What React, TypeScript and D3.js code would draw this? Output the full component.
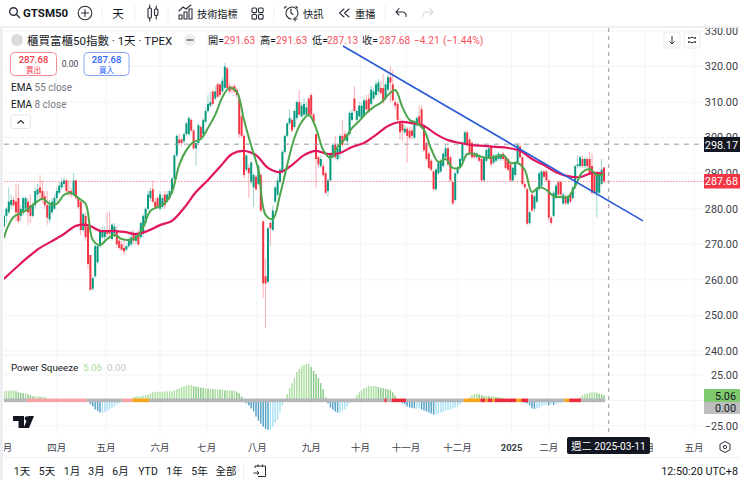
import * as d3 from 'd3';

// daily OHLC, 2024-03 .. 2025-03-11 (10 bars a row)
const opens = [
  275, 278, 279, 281, 282.5, 282, 283, 278, 279, 280,
  282, 281, 278, 281, 284, 286, 285, 283.5, 281, 277,
  279, 280, 283, 284.5, 286, 287, 288, 285, 285, 284,
  288, 283, 282, 274, 278, 275, 267, 257.5, 261, 265,
  269.5, 272, 272, 274, 274, 271.5, 273, 273.5, 271, 270,
  269, 268.5, 269.5, 270, 273, 271, 272.5, 272, 273, 276,
  280, 283, 285.5, 282, 283, 280, 280.5, 284, 282, 283,
  284.5, 288.5, 295, 299.5, 299.5, 299, 301, 301, 305, 302,
  297, 298.5, 303, 301, 304.5, 307.5, 309, 313, 311, 315,
  315, 313, 314, 319.5, 314.5, 314, 314.5, 313.5, 311, 306,
  300.5, 291, 291.5, 287.5, 286, 289, 287, 289.5, 276.5, 261,
  259.5, 276, 274, 282, 284, 287.5, 290.5, 296, 300.5, 304,
  305, 303, 305.5, 310, 306, 306.5, 306.5, 311, 312, 306.5,
  301, 294.5, 292, 292, 290, 285, 288, 294.5, 298, 294,
  295.5, 300.5, 301, 299, 301, 305, 311, 305, 306, 305.5,
  306.5, 310.5, 311, 309.5, 311, 312, 313, 314, 314, 311,
  313.5, 317, 315, 310, 309.5, 304.5, 304, 301.5, 302.5, 302,
  302, 300, 303.5, 306, 308, 303.5, 298.5, 295.5, 293.5, 290.5,
  285.5, 290, 290.5, 292, 294.5, 297, 294.5, 287.5, 282.5, 290,
  291.5, 293.5, 298.5, 301.5, 299.5, 298.5, 295.5, 294.5, 294.5, 294,
  288, 293.5, 294.5, 297.5, 293, 293.5, 294, 294, 295.5, 294.5,
  294, 292.5, 288, 289.5, 293, 297.5, 294.5, 287, 285.5, 276,
  284, 280, 282, 285.5, 286.5, 290.5, 290.5, 288, 277.5, 278,
  283, 287.5, 287.5, 281.5, 283.5, 281.5, 284, 283, 286, 292,
  292, 294, 292, 294, 294, 292, 290, 284.5, 284.5, 287,
  291.63,
];
const closes = [
  278, 280, 282, 282.5, 281, 279, 276.5, 280, 283, 283,
  279, 278, 281, 285, 285.5, 284.5, 283, 281, 277.5, 281,
  282, 283, 285, 286.5, 287.5, 288, 285, 284.5, 284, 288,
  283, 280.5, 274, 278.5, 272, 264.5, 257.2, 260.5, 269.5, 269.5,
  274, 274, 274, 273, 273, 275.5, 275, 270, 269, 268.5,
  268, 269.5, 271, 272, 271, 272.5, 270, 276, 278, 280,
  284, 285, 282, 280.5, 280.5, 284, 283, 281, 284, 285,
  288.5, 295, 300.5, 298.5, 298.5, 301, 304, 305.5, 302, 297,
  298.5, 303.5, 300, 305, 307.5, 309.5, 310, 309.5, 313, 311.5,
  312, 316, 320, 314, 313, 313.5, 313, 312, 301, 300.5,
  289.5, 295, 290, 293, 289.5, 285.5, 292, 279.5, 259, 259,
  274.5, 274.5, 279.5, 286, 288, 291, 296, 300.5, 304, 305.5,
  302, 307.5, 310, 306.5, 309, 309.5, 308.5, 306.5, 306.5, 304.5,
  294, 292.5, 294, 289.5, 284.5, 288, 295.5, 298, 294.5, 297,
  300.5, 298, 300, 301, 307, 307, 307.5, 307.5, 309, 309,
  310.5, 308, 307.5, 313.5, 313, 315, 315.5, 312.5, 310, 315,
  317, 315.5, 310.5, 309, 305, 301.5, 302, 302.5, 300.5, 300,
  300.5, 304, 305.5, 304, 303.5, 296.5, 294, 291.5, 291, 285.5,
  291, 293, 293.5, 295.5, 297, 292.5, 288, 281.5, 290, 291.5,
  294, 298.5, 301.5, 298, 295.5, 294.5, 294.5, 295.5, 293.5, 288,
  294.5, 296.5, 297, 292.5, 295, 295, 295.5, 295, 294, 291.5,
  291, 288, 291.5, 293, 298, 294.5, 287, 286, 275.8, 279,
  279.5, 283.5, 285.5, 290, 290.5, 289, 288, 277.5, 276, 284.5,
  286.5, 284, 284, 284, 281.5, 283.5, 282, 286, 292, 292.5,
  294.5, 292, 294, 292, 290, 284.5, 284.5, 290, 290, 291,
  287.68,
];
const highs = [
  278.5, 280.5, 286, 284, 283.5, 287, 287, 281, 283.5, 283.5,
  283, 284, 282, 286, 287, 289.5, 288, 285, 285, 282.5,
  283, 284, 286, 287.5, 288.5, 289, 288.5, 288, 286, 290,
  288, 283.5, 282, 279, 279, 275, 267, 261, 270, 270,
  274.5, 275, 275, 279, 279, 276, 276, 275, 272.5, 271,
  271, 270, 272, 274, 274, 273.5, 274, 276.5, 278.5, 280.5,
  285, 286, 288, 283, 283.5, 285, 284, 285, 285, 285.5,
  289, 295.5, 301, 301, 300, 301.5, 304.5, 306, 305.5, 302.5,
  299, 304, 303.5, 305.5, 308.5, 312, 313, 313.5, 314.5, 315.5,
  315.5, 317, 321, 320, 315.5, 315, 315, 314, 312, 306.5,
  301, 295.5, 292.5, 293.5, 290, 289.5, 292.5, 290, 276.5, 266,
  275, 276.5, 281, 286.5, 289, 291.5, 296.5, 301, 304.5, 308,
  305.5, 308, 310.5, 313.5, 310, 311, 310, 311.5, 312.5, 307,
  301, 295, 295, 293, 290.5, 288.5, 296, 298.5, 300.5, 298,
  301, 305, 302, 301.5, 307.5, 308, 314.5, 308, 310, 310,
  311.5, 312, 312.5, 314.5, 314, 316, 316.5, 316, 318, 316,
  318, 320, 319, 311, 310, 305.5, 305, 303.5, 303, 303,
  303, 305, 306, 309, 309, 304, 299, 296, 294, 291,
  291.5, 293.5, 294, 296, 298, 297.5, 295, 288, 290.5, 292,
  294.5, 299, 302, 302, 300, 299, 296, 296, 295, 294.5,
  295, 297, 297.5, 298, 295.5, 295.5, 296, 295.5, 296, 295,
  294.5, 293, 292, 293.5, 298.5, 298.5, 295, 287.5, 286, 279.5,
  284.5, 284, 286, 290.5, 291, 291, 291, 288.5, 278, 285,
  287, 288, 288, 284.5, 284, 284, 284.5, 286.5, 292.5, 295,
  295, 295, 294.5, 294.5, 296, 295.5, 290.5, 290.5, 290.5, 294,
  291.63,
];
const lows = [
  274.5, 276, 278.5, 280, 280.5, 276.5, 276, 276.5, 278, 279.5,
  275.5, 276, 277.5, 280, 283, 283, 281.5, 280, 275.5, 276,
  278.5, 279.5, 282, 284, 285.5, 286, 284.5, 283.5, 283, 283.5,
  282.5, 280, 272.5, 273.5, 271, 263, 257, 257, 260.5, 264.5,
  269, 271.5, 271, 272, 272, 271, 272, 269, 268.5, 268,
  267, 268, 269, 269.5, 270, 270, 269.5, 271.5, 272, 275,
  279.5, 282, 281.5, 280, 280, 279.5, 280, 280, 281.5, 282.5,
  284, 288, 294.5, 298, 297.5, 298.5, 300.5, 300.5, 301.5, 296.5,
  292, 298, 299.5, 300.5, 304, 307, 308.5, 309, 310.5, 311,
  311.5, 312.5, 313.5, 313.5, 312.5, 312.5, 312.5, 311, 300, 300,
  288.5, 290.5, 283, 287, 280.5, 285, 286.5, 279, 255, 246.5,
  259, 269.5, 274, 281.5, 283.5, 287, 290, 295.5, 300, 303.5,
  301.5, 302.5, 305, 306, 305.5, 306, 306, 306, 306, 304,
  286, 291.5, 291.5, 289, 284, 283.5, 287.5, 294, 294, 293.5,
  294, 297.5, 299, 298, 300.5, 304.5, 307, 304.5, 305.5, 305,
  306, 307.5, 307, 309, 310.5, 311.5, 312, 312, 309.5, 310.5,
  313, 310, 310, 308, 304.5, 299.5, 299, 301, 293, 299.5,
  299.5, 299.5, 303, 303.5, 303, 296, 293.5, 291, 290.5, 285,
  285, 289.5, 290, 291.5, 294, 292, 287.5, 281, 282, 289.5,
  291, 293, 298, 297.5, 295, 294, 294, 294, 293, 287.5,
  287.5, 293, 294, 292, 292.5, 293, 293.5, 293.5, 293.5, 291,
  290.5, 287.5, 287.5, 289, 292.5, 294, 286.5, 285.5, 275.5, 275.5,
  279, 279, 281.5, 285, 286, 288.5, 287.5, 276.5, 275.5, 277.5,
  282.5, 283.5, 283.5, 281, 281, 281, 281.5, 282.5, 285.5, 291.5,
  291.5, 291.5, 291.5, 291.5, 289.5, 284, 284, 277.5, 284, 286.5,
  287.13,
];

// EMA 55, one reading every 5 bars
const ema55 = [
  260.3, 263.4, 266.4, 269, 270.9, 272.9, 275.2, 275.4, 273.8, 273.8,
  273.5, 272.9, 273.8, 275.4, 276.6, 280.2, 284.7, 288.1, 291.8, 295.4,
  296.3, 295.1, 291.5, 290.3, 292.3, 295.1, 296.3, 295.4, 295.7, 297.4,
  298.5, 300.8, 303.3, 304.4, 304.1, 303.3, 301, 299.3, 298.5, 297.9,
  297.7, 297.4, 297.1, 296.3, 294, 292.3, 290.3, 289.2, 288.9, 290.1,
  289.8,
];
// EMA 8, bar 0 and then one reading every 3 bars from bar 1
const ema8 = [
  271.8,
  274, 277.7, 278.8, 279.9, 281.6, 282.8, 281.4, 281.4, 283.9, 284.4,
  283, 281.4, 271.2, 269.8, 271.5, 272.6, 271.5, 271.2, 271.8, 274.9,
  279.4, 280.5, 281.6, 284.7, 292.3, 296.5, 298.8, 299.6, 302.7, 306.4,
  311.4, 314, 312.9, 305, 297.7, 290.9, 278.3, 277.1, 283.9, 292.3,
  299.9, 304.4, 306.4, 302.7, 296.5, 294.3, 297.4, 299.6, 302.7, 304.7,
  306.9, 308.6, 309.8, 312, 313.4, 308.6, 305, 304.1, 302.2, 296.8,
  293.2, 294, 291.5, 291.7, 295.4, 295.4, 294.6, 294.3, 294.6, 295.1,
  292.9, 292.9, 290.9, 284.7, 286.1, 285.3, 283.6, 283.3, 283.3, 286.4,
  290.3, 291.2, 289.5, 289.8,
];
const ema55Bars = d3.range(0, 251, 5);
const ema8Bars = [0, ...d3.range(1, 251, 3)];

// drawn trend line: [bar, price]
const trendBars = [141.25, 266.25];
const trendPrices = [325.8, 276.6];

// Power Squeeze histogram
const squeeze = [
  9, 9.5, 9.5, 10, 10, 9, 8, 7.5, 7, 7,
  6, 5, 4, 4, 4, 3.5, 3.5, 3, 1.5, 0.5,
  0.3, 0.2, 0.2, 0.1, 0.1, 0.1, 0.1, 0.1, 0, 0,
  0, 0, 0, 0, 0, -1.5, -4, -6, -9, -10.5,
  -12, -12, -11.5, -10.5, -9, -7.5, -5.5, -4, -2.5, -1,
  -0.5, 0, 0.2, 0.3, 3, 4, 4, 4, 4.5, 5,
  5.5, 7, 8, 8.5, 8.5, 8.5, 8.5, 8.5, 9, 9,
  9, 10, 11, 12, 13, 14, 14.5, 15, 15, 14,
  13.5, 13, 12.5, 12, 12, 11.5, 11.5, 11, 11, 11,
  10.5, 10.5, 10, 10, 10, 9.5, 9.5, 8.5, 7, 4,
  1.5, -3, -5, -8, -11, -16, -20, -23, -26, -28,
  -29, -29, -26, -22, -19, -12, -5, -1, 6, 12,
  17, 22, 28, 31, 33.5, 35, 36, 36, 33, 29,
  26, 22, 17, 11, 3, -3, -7, -9, -11, -12,
  -12, -10, -9, -6, -3, -1, 1, 5, 8, 10,
  12, 13, 14, 14, 14, 14, 13, 12.5, 12, 11.5,
  11, 10, 8, 5, 1.5, 0.3, -3, -4, -6, -7,
  -7.5, -8, -8, -8, -9, -10, -11, -12, -13, -14,
  -14, -13, -12, -11, -10, -9.5, -9, -8, -7, -6,
  -4, -2, -0.5, 1, 3, 5, 6, 6.5, 6, 5,
  4.5, 4.5, 4, 4, 4, 3.5, 3.5, 2.5, 2, 1.5,
  1, 1, 0.5, -0.5, -1, -0.5, -1, -2.5, -3, -5,
  -8, -8.5, -8, -7.5, -6, -5, -4.5, -5, -4, -4.5,
  -3.5, -3, -2.5, -2, -1.5, -0.5, 0.3, 1, 1.5, 2,
  3, 5, 6, 7, 7.5, 8, 8, 7.5, 6.5, 6,
  5.06,
];
// squeeze state strip along the zero line: first bar, last bar, state
const stripFrom = [0, 10, 35, 50, 54, 61, 159, 160, 162, 168, 192, 199, 201, 202, 204, 205, 214, 216, 219, 234, 236, 241];
const stripTo = [9, 34, 49, 53, 60, 158, 159, 161, 167, 191, 198, 200, 201, 203, 204, 213, 215, 218, 233, 235, 240, 250];
const stripState = ['n', 'p', 'n', 'p', 'o', 'n', 'r', 'n', 'r', 'n', 'o', 'r', 'o', 'r', 'o', 'r', 'o', 'r', 'n', 'o', 'r', 'n'];
const stripColors: Record<string, string> = { n: '#b4b5b8', p: '#f8a3a6', o: '#f9a51a', r: '#ee2a3f' };

const priceTicks = [330, 320, 310, 300, 290, 280, 270, 260, 250, 240];
const squeezeTicks = [25, -25];
const monthLabels = ['三月', '四月', '五月', '六月', '七月', '八月', '九月', '十月', '十一月', '十二月', '2025', '二月', '', '四月', '五月'];
const monthBars = [-0.5, 22, 42.5, 65, 84.5, 105.5, 128, 148.5, 167.5, 189, 211.5, 227, 245.5, 267, 287.5];
const rangeLabels = ['1天', '5天', '1月', '3月', '6月', 'YTD', '1年', '5年', '全部'];
const rangeCenters = [22, 47, 72, 96.5, 120.5, 148, 174.5, 199.5, 226];

const W = 740;
const H = 480;
const FONT = 'Roboto, "Noto Sans CJK TC", sans-serif';
const UP = '#089981';
const DOWN = '#f23645';
const GRID = '#f3f4f6';
const AXIS_TEXT = '#3d4048';
const PANE_LEFT = 4;
const PANE_RIGHT = 704;

const x = d3.scaleLinear().domain([0, 250]).range([4, 604]);
const y = d3.scaleLinear().domain([240, 330]).range([351, 31]);
const yOsc = d3.scaleLinear().domain([-25, 25]).range([425.7, 375]);

const ema55Path = d3.line<number>().x((_, i) => x(ema55Bars[i])).y(d => y(d)).curve(d3.curveCatmullRom)(ema55)!;
const ema8Path = d3.line<number>().x((_, i) => x(ema8Bars[i])).y(d => y(d)).curve(d3.curveCatmullRom)(ema8)!;

function squeezeColor(i: number) {
  const v = squeeze[i];
  const rising = i === 0 || v >= squeeze[i - 1];
  if (v >= 0) return rising ? '#a9dd9d' : '#86c983';
  return rising ? '#a8e0f6' : '#4f9fc6';
}

const ICON = { fill: 'none', stroke: '#2a2e39', strokeWidth: 1.1, strokeLinecap: 'round' as const };

function Toolbar() {
  const seps = [102, 135, 168, 274, 385];
  return (
    <g fontFamily={FONT} fill="#131722">
      <rect x={0} y={0} width={W} height={26} fill="#fff" />
      <rect x={0} y={26} width={W} height={2} fill="#eff0f3" />
      {seps.map(s => <line key={s} x1={s} x2={s} y1={5} y2={21} stroke="#eef0f3" />)}
      <g {...ICON} strokeWidth={1.4}>
        <circle cx={13.5} cy={11.5} r={3.8} />
        <path d="M16.5 14.5 L19.5 17.5" />
      </g>
      <text x={23} y={17} fontSize={11.5} fontWeight={700}>GTSM50</text>
      <g {...ICON}>
        <circle cx={85} cy={13} r={6.8} />
        <path d="M85 9.5 V16.5 M81.5 13 H88.5" />
      </g>
      <text x={118} y={17.5} fontSize={11.5} textAnchor="middle">天</text>
      <g {...ICON}>
        <rect x={148} y={8} width={3.4} height={10} rx={1} />
        <path d="M149.7 5 V8 M149.7 18 V21" />
        <rect x={154.5} y={9} width={3.4} height={6.5} rx={1} />
        <path d="M156.2 6 V9 M156.2 15.5 V19" />
      </g>
      <g {...ICON}>
        <path d="M179 19 V15 H182 V19 Z M184 19 V12 H187 V19 Z M189 19 V9 H192 V19 Z" />
        <path d="M179 11 L183 7 L186 9 L191 5" />
      </g>
      <text x={197} y={17.5} fontSize={10.2}>技術指標</text>
      <g {...ICON}>
        <rect x={252} y={8} width={4.6} height={4.6} rx={1} />
        <rect x={258.5} y={8} width={4.6} height={4.6} rx={1} />
        <rect x={252} y={14.5} width={4.6} height={4.6} rx={1} />
        <rect x={258.5} y={14.5} width={4.6} height={4.6} rx={1} />
      </g>
      <g {...ICON}>
        <path d="M296.5 17 A6 6 0 1 0 291 19" />
        <path d="M291 9 V13 L293 14.5 M286 6.5 L284.5 8 M296 6.5 L297.5 8 M295 17 V21 M293 19 H297" />
      </g>
      <text x={303} y={17.5} fontSize={10.2}>快訊</text>
      <g {...ICON}>
        <path d="M344 9 L339.5 13 L344 17 M349 9 L344.5 13 L349 17" />
      </g>
      <text x={355} y={17.5} fontSize={10.2}>重播</text>
      <g {...ICON}>
        <path d="M396 12 H403 A4 4 0 0 1 406 16.5 M399 8.5 L396 12 L399 15" />
      </g>
      <g {...ICON} stroke="#d4d6da">
        <path d="M433 12 H426 A4 4 0 0 0 423 16.5 M430 8.5 L433 12 L430 15" />
      </g>
    </g>
  );
}

function Legend() {
  return (
    <g fontFamily={FONT}>
      <circle cx={17} cy={40} r={6} fill="#dcdcdc" />
      <text x={27} y={45} fontSize={11.5} fill="#131722">櫃買富櫃50指數 · 1天 · TPEX</text>
      <circle cx={190} cy={40} r={6} fill="#eceef1" />
      <rect x={186.5} y={39.2} width={7} height={1.6} fill="#777" />
      <g fontSize={10.2}>
        <text x={208} y={44} fill="#131722">開=</text>
        <text x={224} y={44} fill="#f7525f">291.63</text>
        <text x={260} y={44} fill="#131722">高=</text>
        <text x={276} y={44} fill="#f7525f">291.63</text>
        <text x={312} y={44} fill="#131722">低=</text>
        <text x={327} y={44} fill="#f7525f">287.13</text>
        <text x={362} y={44} fill="#131722">收=</text>
        <text x={379} y={44} fill="#f7525f">287.68</text>
        <text x={414} y={44} fill="#f7525f">−4.21</text>
        <text x={443} y={44} fill="#f7525f">(−1.44%)</text>
      </g>
      <rect x={10.5} y={52.5} width={46} height={23} rx={4} fill="#fff" stroke="#f28b95" />
      <text x={33.5} y={63} fontSize={9.5} fontWeight={500} fill="#f23645" textAnchor="middle">287.68</text>
      <text x={33.5} y={73} fontSize={7.5} fill="#f23645" textAnchor="middle">賣出</text>
      <text x={70} y={67} fontSize={8.5} fill="#3d4048" textAnchor="middle">0.00</text>
      <rect x={84} y={52.5} width={45} height={23} rx={4} fill="#fff" stroke="#86a8f2" />
      <text x={106.5} y={63} fontSize={9.5} fontWeight={500} fill="#2962ff" textAnchor="middle">287.68</text>
      <text x={106.5} y={73} fontSize={7.5} fill="#2962ff" textAnchor="middle">買入</text>
      <text x={11} y={91} fontSize={10} fill="#131722">EMA <tspan fill="#787b86">55 close</tspan></text>
      <text x={11} y={108} fontSize={10} fill="#131722">EMA <tspan fill="#787b86">8 close</tspan></text>
      <rect x={11} y={115} width={19.5} height={13.5} rx={2} fill="#fff" stroke="#e3e5e9" />
      <path d="M17.5 123.5 L20.8 120.5 L24 123.5" fill="none" stroke="#2a2e39" strokeWidth={1.1} />
      <g fill="#fff" stroke="#e8e9ec">
        <rect x={664} y={32} width={16} height={16} rx={3} />
        <rect x={684} y={32} width={16} height={16} rx={3} />
      </g>
      <path d="M672 36 V44 M669.5 41.5 L672 44 L674.5 41.5" fill="none" stroke="#2a2e39" strokeWidth={1} />
      <path d="M688.5 38.5 Q692 36 695.5 38.5 M688.5 41.5 Q692 44 695.5 41.5 M688.5 37 V38.5 M695.5 37 V38.5 M688.5 41.5 V43 M695.5 41.5 V43" fill="none" stroke="#2a2e39" strokeWidth={1} />
    </g>
  );
}

function Candles() {
  return (
    <g>
      {closes.map((c, i) => {
        const color = c >= opens[i] ? UP : DOWN;
        const top = y(Math.max(opens[i], c));
        const bottom = y(Math.min(opens[i], c));
        return (
          <g key={i}>
            <line x1={x(i)} x2={x(i)} y1={y(highs[i])} y2={y(lows[i])} stroke={color} strokeOpacity={0.4} strokeWidth={1} />
            <rect x={x(i) - 1} y={top} width={2} height={Math.max(bottom - top, 1)} fill={color} />
          </g>
        );
      })}
    </g>
  );
}

function SqueezePane() {
  return (
    <g>
      {squeeze.map((v, i) => (
        <rect
          key={i}
          x={x(i) - 0.7}
          y={Math.min(yOsc(v), yOsc(0))}
          width={1.4}
          height={Math.abs(yOsc(v) - yOsc(0))}
          fill={squeezeColor(i)}
        />
      ))}
      {stripFrom.map((from, k) => (
        <rect
          key={k}
          x={x(from) - 1.2}
          y={yOsc(0) - 1.8}
          width={x(stripTo[k]) - x(from) + 2.4}
          height={3.6}
          fill={stripColors[stripState[k]]}
        />
      ))}
    </g>
  );
}

function PriceAxis() {
  return (
    <g fontFamily={FONT} fontSize={10.8} fill={AXIS_TEXT} textAnchor="end">
      {priceTicks.map(t => <text key={t} x={738} y={y(t) + 3.8}>{t.toFixed(2)}</text>)}
      {squeezeTicks.map(t => (
        <text key={t} x={738} y={yOsc(t) + 3.8}>{t < 0 ? `−${Math.abs(t).toFixed(2)}` : t.toFixed(2)}</text>
      ))}
      <rect x={704} y={137} width={36} height={15} fill="#131722" />
      <text x={738} y={148.5} fill="#fff">298.17</text>
      <rect x={704} y={174} width={36} height={14.5} fill="#f23645" />
      <text x={738} y={185} fill="#fff">287.68</text>
      <rect x={704} y={389} width={36} height={13} fill="#7fc96f" />
      <text x={736} y={399.5} fill="#131722">5.06</text>
      <rect x={704} y={402} width={36} height={12} fill="#bdbdbd" />
      <text x={736} y={412} fill="#131722">0.00</text>
    </g>
  );
}

function TimeAxis() {
  return (
    <g fontFamily={FONT} fontSize={9.5} fill={AXIS_TEXT} textAnchor="middle">
      <g clipPath="url(#pane)">
        {monthLabels.map((m, i) => m && (
          <text key={i} x={x(monthBars[i])} y={451} fontWeight={m === '2025' ? 700 : 400}>{m}</text>
        ))}
      </g>
      <rect x={567} y={437} width={83} height={17} rx={2} fill="#131722" />
      <text x={608.5} y={450} fill="#fff" fontSize={10.2}>週二 2025-03-11</text>
      <g fill="none" stroke="#2a2e39" strokeWidth={1}>
        <path d="M725 441.5 L730 444.2 V449.8 L725 452.5 L720 449.8 V444.2 Z" />
        <circle cx={725} cy={447} r={1.6} />
      </g>
    </g>
  );
}

function BottomBar() {
  return (
    <g fontFamily={FONT} fontSize={10.5} fill="#131722">
      {rangeLabels.map((r, i) => <text key={r} x={rangeCenters[i]} y={475} textAnchor="middle">{r}</text>)}
      <line x1={243.5} x2={243.5} y1={463} y2={479} stroke="#eceef1" />
      <path d="M255 468 V466 H265.5 V476.5 H258 M258 464.5 V467 M262.5 464.5 V467 M253.5 473 H259 M257 471 L259 473 L257 475" fill="none" stroke="#2a2e39" strokeWidth={1} />
      <text x={738} y={475} textAnchor="end" fontSize={10.8}>12:50:20 UTC+8</text>
    </g>
  );
}

export default function App() {
  return (
    <svg width={W} height={H} viewBox={`0 0 ${W} ${H}`} style={{ position: 'absolute', left: 0, top: 0, background: '#fff' }}>
      <defs>
        <clipPath id="pane"><rect x={PANE_LEFT} y={28} width={PANE_RIGHT - PANE_LEFT} height={430} /></clipPath>
      </defs>
      <rect x={0} y={28} width={3} height={452} fill="#eceef1" />

      {/* gridlines */}
      {priceTicks.map(t => <line key={t} x1={PANE_LEFT} x2={PANE_RIGHT} y1={y(t)} y2={y(t)} stroke={GRID} />)}
      {[...squeezeTicks, 0].map(t => <line key={t} x1={PANE_LEFT} x2={PANE_RIGHT} y1={yOsc(t)} y2={yOsc(t)} stroke={GRID} />)}
      {monthBars.map((b, i) => x(b) > PANE_LEFT && <line key={i} x1={x(b)} x2={x(b)} y1={28} y2={435} stroke={GRID} />)}
      <line x1={PANE_LEFT} x2={W} y1={355} y2={355} stroke="#eceef1" />
      <line x1={PANE_LEFT} x2={W} y1={457.5} y2={457.5} stroke="#eff0f3" />

      <g clipPath="url(#pane)">
        <Candles />
        <line x1={PANE_LEFT} x2={PANE_RIGHT} y1={y(298.17)} y2={y(298.17)} stroke="#9598a1" strokeDasharray="5 5" />
        <line x1={PANE_LEFT} x2={PANE_RIGHT} y1={181.5} y2={181.5} stroke="#f7525f" strokeOpacity={0.65} strokeDasharray="1.5 1.5" />
        <path d={ema55Path} fill="none" stroke="#e0175c" strokeWidth={2.2} />
        <path d={ema8Path} fill="none" stroke="#4ca54a" strokeWidth={2} />
        <line
          x1={x(trendBars[0])}
          x2={x(trendBars[1])}
          y1={y(trendPrices[0])}
          y2={y(trendPrices[1])}
          stroke="#2a5bd7"
          strokeWidth={1.7}
        />
        <SqueezePane />
        <line x1={608.7} x2={608.7} y1={28} y2={436} stroke="#9598a1" strokeDasharray="4 4" />
      </g>

      <Legend />
      <g fontFamily={FONT} fontSize={9.8}>
        <text x={11} y={371} fill="#131722">Power Squeeze</text>
        <text x={83} y={371} fill="#a9dd9d">5.06</text>
        <text x={107} y={371} fill="#c8c9cc">0.00</text>
      </g>
      {/* TV logo */}
      <path d="M13 416 H24 V428 H18.5 V421 H13 Z M23.5 428 L28.5 416 H34 L29 428 Z" fill="#131722" />
      <circle cx={27} cy={418.5} r={2.3} fill="#131722" />

      <PriceAxis />
      <TimeAxis />
      <BottomBar />
      <Toolbar />
    </svg>
  );
}
